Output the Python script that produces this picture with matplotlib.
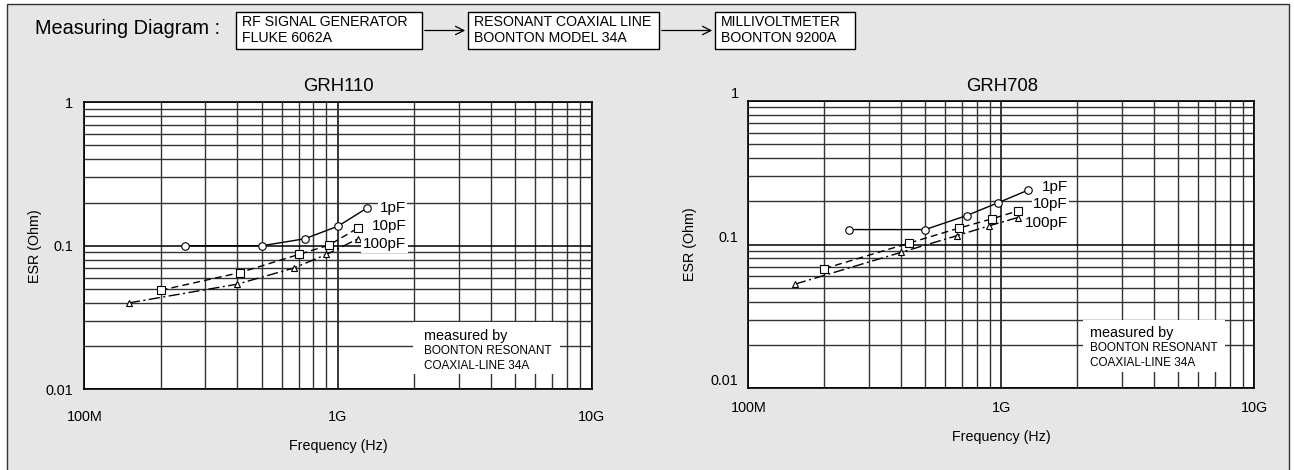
import matplotlib
matplotlib.use("Agg")
import matplotlib.pyplot as plt
import matplotlib.transforms as mtransforms
from matplotlib.patches import Rectangle, FancyArrowPatch
from matplotlib.ticker import LogLocator, FixedLocator, FixedFormatter, NullFormatter

plt.rcParams['font.family'] = ['Liberation Sans', 'DejaVu Sans']

W, H, DPI = 1294, 470, 100

# ---- data -------------------------------------------------------------
series_labels = ["1pF", "10pF", "100pF"]

grh110_freq_1pF = [250e6, 500e6, 740e6, 1.0e9, 1.3e9]
grh110_esr_1pF = [0.100, 0.100, 0.112, 0.137, 0.183]
grh110_freq_10pF = [200e6, 410e6, 700e6, 920e6, 1.2e9]
grh110_esr_10pF = [0.049, 0.065, 0.087, 0.101, 0.133]
grh110_freq_100pF = [150e6, 400e6, 670e6, 900e6, 1.2e9]
grh110_esr_100pF = [0.040, 0.054, 0.070, 0.087, 0.112]

grh708_freq_1pF = [250e6, 500e6, 730e6, 970e6, 1.27e9]
grh708_esr_1pF = [0.127, 0.127, 0.159, 0.195, 0.238]
grh708_freq_10pF = [200e6, 430e6, 680e6, 920e6, 1.16e9]
grh708_esr_10pF = [0.068, 0.102, 0.130, 0.151, 0.171]
grh708_freq_100pF = [153e6, 400e6, 666e6, 897e6, 1.16e9]
grh708_esr_100pF = [0.053, 0.088, 0.115, 0.135, 0.154]

x_ticks = [1e8, 1e9, 1e10]
x_tick_labels = ["100M", "1G", "10G"]
y_ticks = [0.01, 0.1, 1]
y_tick_labels = ["0.01", "0.1", "1"]

diagram_steps = [
    "RF SIGNAL GENERATOR\nFLUKE 6062A",
    "RESONANT COAXIAL LINE\nBOONTON MODEL 34A",
    "MILLIVOLTMETER\nBOONTON 9200A",
]
note_lines = ["measured by", "BOONTON RESONANT", "COAXIAL-LINE 34A"]

# ---- helpers ----------------------------------------------------------
def fx(x):
    return x / W


def fy(y):
    return 1 - y / H


BG = "#e6e6e6"
fig = plt.figure(figsize=(W / DPI, H / DPI), dpi=DPI, facecolor="white")

# panel background with frame
fig.patches.append(Rectangle((fx(7), fy(480)), fx(1289) - fx(7), fy(4) - fy(480),
                             transform=fig.transFigure, facecolor=BG,
                             edgecolor="#333333", lw=1.0, zorder=-5))

# ---- measuring diagram header ----------------------------------------
fig.text(fx(35), fy(28), "Measuring Diagram :", fontsize=14.3, va="center", ha="left")
box_x = [(236, 422), (468, 659), (715, 855)]
box_top, box_bot = 12, 49
for (x0, x1), txt in zip(box_x, diagram_steps):
    fig.patches.append(Rectangle((fx(x0), fy(box_bot)), fx(x1) - fx(x0), fy(box_top) - fy(box_bot),
                                 transform=fig.transFigure, facecolor="white",
                                 edgecolor="black", lw=1.0, zorder=2))
    l1, l2 = txt.split("\n")
    fig.text(fx(x0 + 6), fy(21.5), l1, fontsize=10.2, va="center", ha="left", zorder=3)
    fig.text(fx(x0 + 6), fy(38.5), l2, fontsize=10.2, va="center", ha="left", zorder=3)
for (a, b) in [(box_x[0][1], box_x[1][0]), (box_x[1][1], box_x[2][0])]:
    fig.patches.append(FancyArrowPatch((fx(a), fy(30.5)), (fx(b), fy(30.5)),
                                       transform=fig.transFigure, arrowstyle="->,head_length=6,head_width=3",
                                       color="black", lw=0.9, zorder=2))


# ---- charts -----------------------------------------------------------
def draw_chart(rect, title, title_xy, xlabel_y, ylabel_x, data, label_pos,
               note_x, note_ys, note_box, xpad, ypad, ylab_shift):
    ax = fig.add_axes(rect)
    ax.set_zorder(1)
    ax.set_facecolor("white")
    ax.set_xscale("log")
    ax.set_yscale("log")
    ax.set_xlim(1e8, 1e10)
    ax.set_ylim(0.01, 1)
    ax.xaxis.set_major_locator(FixedLocator(x_ticks))
    ax.xaxis.set_major_formatter(FixedFormatter(x_tick_labels))
    ax.yaxis.set_major_locator(FixedLocator(y_ticks))
    ax.yaxis.set_major_formatter(FixedFormatter(y_tick_labels))
    for axis in (ax.xaxis, ax.yaxis):
        axis.set_minor_locator(LogLocator(base=10, subs=range(2, 10)))
        axis.set_minor_formatter(NullFormatter())
    ax.tick_params(which="both", length=0, labelsize=10.4)
    ax.tick_params(axis="x", pad=xpad)
    ax.tick_params(axis="y", pad=ypad)
    ax.set_axisbelow(True)
    ax.grid(which="major", color="black", lw=1.1)
    ax.grid(which="minor", color="#333333", lw=1.0)
    for s in ax.spines.values():
        s.set_color("black")
        s.set_linewidth(1.2)
    if ylab_shift:
        off = mtransforms.ScaledTranslation(0, ylab_shift / DPI, fig.dpi_scale_trans)
        for lab in ax.get_yticklabels():
            lab.set_transform(lab.get_transform() + off)

    styles = [("-", "o", 5.4), ((0, (5, 3)), "s", 5.2), ((0, (8, 2.5, 1.5, 2.5)), "^", 4.8)]
    for (fr, es), (ls, mk, ms) in zip(data, styles):
        ax.plot(fr, es, color="black", lw=1.0, ls=ls, marker=mk, ms=ms,
                mfc="white", mec="black", mew=0.8, zorder=3)
    for name, (lx, ly) in zip(series_labels, label_pos):
        ax.text(lx, ly, name, fontsize=11, ha="left", va="center", zorder=4,
                bbox=dict(boxstyle="square,pad=0.1", fc="white", ec="none"))

    bx0, by0, bx1, by1 = note_box
    ax.add_patch(Rectangle((bx0, by0), bx1 - bx0, by1 - by0, transform=ax.transAxes,
                           facecolor="white", edgecolor="none", zorder=1.5))
    for i, (t, yy) in enumerate(zip(note_lines, note_ys)):
        ax.text(note_x, yy, t, transform=ax.transAxes, ha="left", va="center",
                fontsize=10.4 if i == 0 else 8.5, zorder=4)

    fig.text(fx(title_xy[0]), fy(title_xy[1]), title, fontsize=13.3, ha="center", va="center")
    cx = rect[0] + rect[2] / 2
    fig.text(cx, fy(xlabel_y), "Frequency (Hz)", fontsize=10.3, ha="center", va="center")
    fig.text(fx(ylabel_x), rect[1] + rect[3] / 2, "ESR (Ohm)", fontsize=10.3,
             ha="center", va="center", rotation=90)
    return ax


draw_chart(
    [fx(84.3), fy(389.3), fx(591.7) - fx(84.3), fy(102.3) - fy(389.3)],
    "GRH110", (338, 86.7), 446, 35,
    [(grh110_freq_1pF, grh110_esr_1pF),
     (grh110_freq_10pF, grh110_esr_10pF),
     (grh110_freq_100pF, grh110_esr_100pF)],
    [(1.46e9, 0.184), (1.36e9, 0.1374), (1.255e9, 0.1024)],
    0.6695, [0.1857, 0.1345, 0.0812], (0.6473, 0.0533, 0.9367, 0.2345),
    xpad=15.0, ypad=7.8, ylab_shift=0,
)

draw_chart(
    [fx(748.3), fy(388.3), fx(1254.3) - fx(748.3), fy(100.7) - fy(388.3)],
    "GRH708", (1002, 86.7), 436.7, 690,
    [(grh708_freq_1pF, grh708_esr_1pF),
     (grh708_freq_10pF, grh708_esr_10pF),
     (grh708_freq_100pF, grh708_esr_100pF)],
    [(1.444e9, 0.252), (1.338e9, 0.1904), (1.241e9, 0.1404)],
    0.6753, [0.1912, 0.1391, 0.0890], (0.6615, 0.0577, 0.9421, 0.2375),
    xpad=9.0, ypad=7.0, ylab_shift=8.5,
)

fig.savefig("out.png", dpi=DPI, facecolor=fig.get_facecolor())
